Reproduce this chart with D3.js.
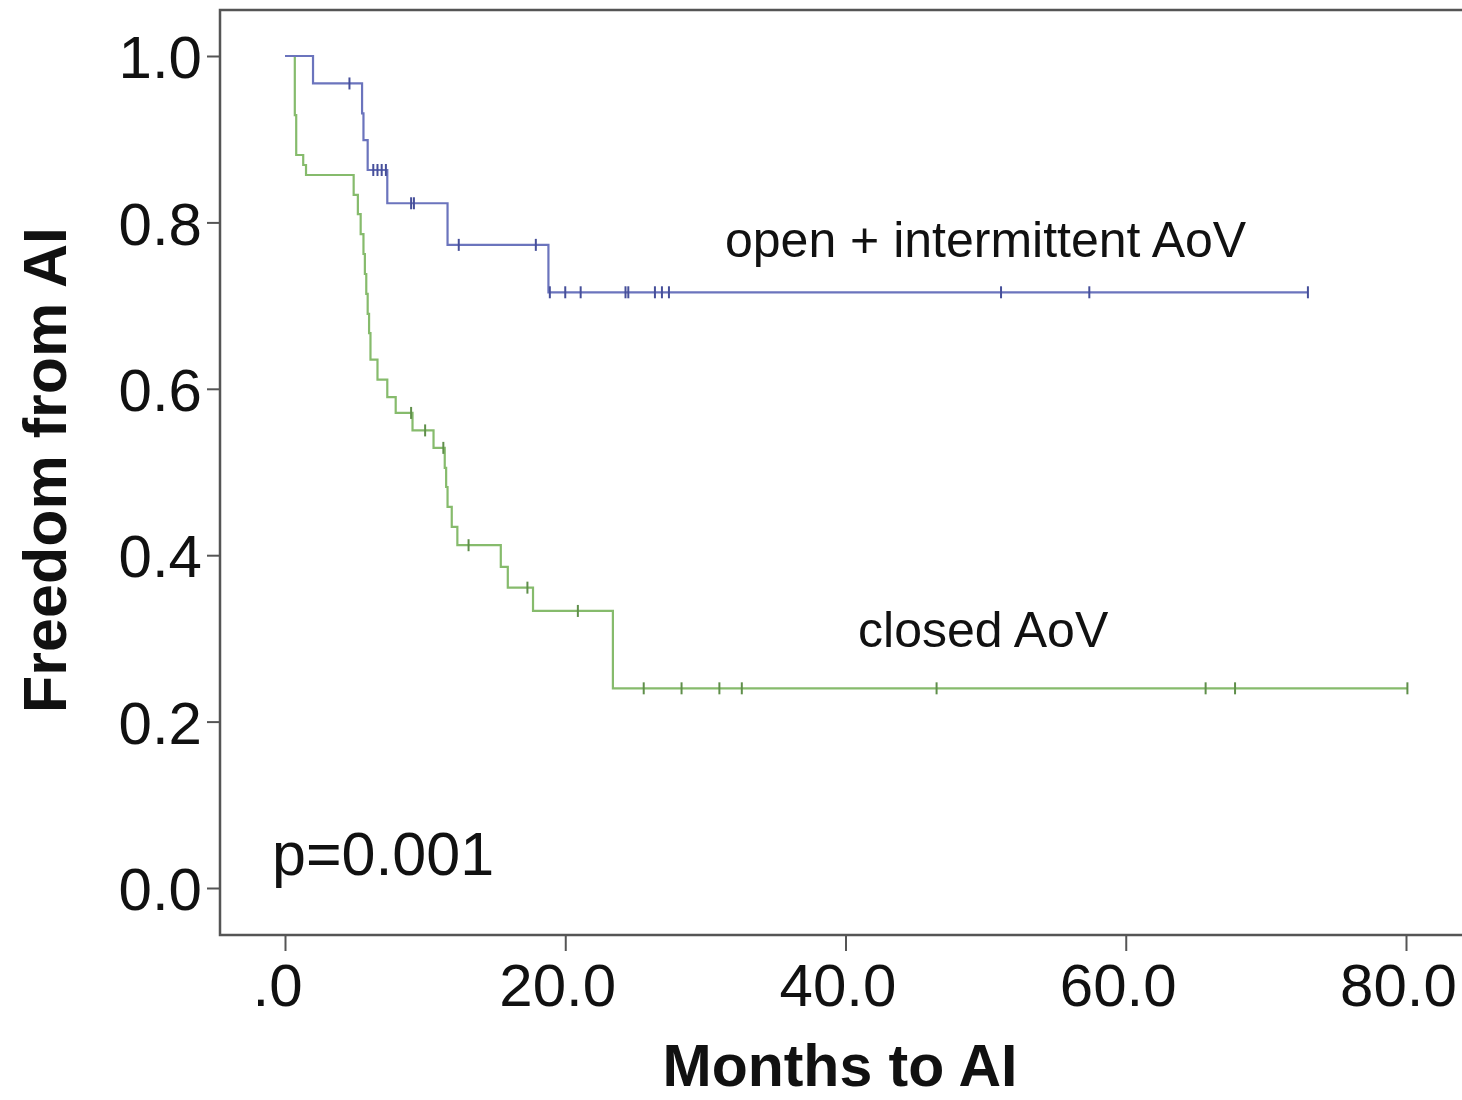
<!DOCTYPE html>
<html>
<head>
<meta charset="utf-8">
<script src="https://cdn.jsdelivr.net/npm/d3@7"></script>
<style>
  body { margin: 0; background: #fff; }
  svg { display: block; }
  text { font-family: "Liberation Sans", Arial, sans-serif; fill: #111; }
</style>
</head>
<body>
<div id="chart"></div>
<script>
// Kaplan-Meier steps: time (months) and survival after the event
const blueTimes = [2.0, 5.5, 5.6, 5.9, 7.3, 11.6, 18.8]
const blueSurv = [0.967, 0.931, 0.899, 0.863, 0.823, 0.773, 0.716]
const blueEnd = 73.0
const blueCensor = [4.6, 6.3, 6.6, 6.9, 7.2, 9.0, 9.2, 12.4, 17.9, 18.9, 20.0, 21.1, 24.3, 24.5, 26.4, 26.9, 27.4, 51.1, 57.4, 73.0]

const greenTimes = [0.7, 0.8, 1.3, 1.5, 4.9, 5.2, 5.4, 5.6, 5.7, 5.8, 5.9, 6.0, 6.1, 6.6, 7.3, 7.9, 9.1, 10.6, 11.4, 11.5, 11.6, 11.9, 12.3, 15.4, 15.9, 17.7, 23.4]
const greenSurv = [0.929, 0.881, 0.869, 0.857, 0.833, 0.810, 0.786, 0.762, 0.738, 0.714, 0.690, 0.667, 0.635, 0.611, 0.590, 0.571, 0.550, 0.529, 0.505, 0.482, 0.458, 0.434, 0.412, 0.386, 0.361, 0.333, 0.240]
const greenEnd = 80.1
const greenCensor = [9.0, 10.0, 11.3, 13.1, 17.3, 20.9, 25.6, 28.3, 31.0, 32.6, 46.5, 65.7, 67.8, 80.1]

const xTicks = [0, 20, 40, 60, 80]
const yTicks = [0, 0.2, 0.4, 0.6, 0.8, 1.0]

const width = 1462
const height = 1100

const x = d3.scaleLinear().domain([0, 80]).range([285, 1406])
const y = d3.scaleLinear().domain([0, 1]).range([888, 56])

const svg = d3.select('#chart').append('svg')
  .attr('width', width)
  .attr('height', height)

// frame (right side runs off the picture)
svg.append('rect')
  .attr('x', 220).attr('y', 10)
  .attr('width', 1280).attr('height', 925)
  .attr('fill', 'none')
  .attr('stroke', '#555')
  .attr('stroke-width', 2.5)

const yAxis = svg.append('g')
  .attr('transform', 'translate(220,0)')
  .call(d3.axisLeft(y).tickValues(yTicks).tickSize(13).tickPadding(5).tickFormat(d => d.toFixed(1)))
yAxis.select('.domain').remove()
yAxis.selectAll('line').attr('stroke', '#555').attr('stroke-width', 2)
yAxis.selectAll('text').attr('font-size', 60).attr('fill', '#111').attr('dy', '0.36em')

const xAxis = svg.append('g')
  .attr('transform', 'translate(0,935)')
  .call(d3.axisBottom(x).tickValues(xTicks).tickSize(16).tickPadding(12).tickFormat(d => d === 0 ? '.0' : d.toFixed(1)))
xAxis.select('.domain').remove()
xAxis.selectAll('line').attr('stroke', '#555').attr('stroke-width', 2)
xAxis.selectAll('text').attr('font-size', 60).attr('fill', '#111').attr('dx', -8)

function steps(times, surv, end) {
  const pts = [[0, 1]]
  times.forEach((t, i) => pts.push([t, surv[i]]))
  pts.push([end, surv[surv.length - 1]])
  return pts
}

function survAt(times, surv, t) {
  let v = 1
  times.forEach((tt, i) => { if (tt <= t) v = surv[i] })
  return v
}

const line = d3.line()
  .x(d => x(d[0]))
  .y(d => y(d[1]))
  .curve(d3.curveStepAfter)

const groups = [
  { times: greenTimes, surv: greenSurv, end: greenEnd, censor: greenCensor, color: '#86bb6c', mark: '#5f8f4a' },
  { times: blueTimes, surv: blueSurv, end: blueEnd, censor: blueCensor, color: '#6b74bd', mark: '#464f9a' }
]

groups.forEach(g => {
  svg.append('path')
    .datum(steps(g.times, g.surv, g.end))
    .attr('d', line)
    .attr('fill', 'none')
    .attr('stroke', g.color)
    .attr('stroke-width', 2.2)

  svg.append('g').selectAll('line')
    .data(g.censor)
    .join('line')
    .attr('x1', d => x(d)).attr('x2', d => x(d))
    .attr('y1', d => y(survAt(g.times, g.surv, d)) - 6)
    .attr('y2', d => y(survAt(g.times, g.surv, d)) + 6)
    .attr('stroke', g.mark)
    .attr('stroke-width', 2)
})

// annotations
svg.append('text')
  .attr('x', x(31.4)).attr('y', y(0.758))
  .attr('font-size', 50)
  .text('open + intermittent AoV')

svg.append('text')
  .attr('x', x(40.9)).attr('y', y(0.290))
  .attr('font-size', 50)
  .text('closed AoV')

svg.append('text')
  .attr('x', x(-0.93)).attr('y', y(0.016))
  .attr('font-size', 61)
  .text('p=0.001')

// axis titles
svg.append('text')
  .attr('x', 840).attr('y', 1086)
  .attr('text-anchor', 'middle')
  .attr('font-size', 59)
  .attr('font-weight', 'bold')
  .text('Months to AI')

svg.append('text')
  .attr('transform', 'translate(66,470) rotate(-90)')
  .attr('text-anchor', 'middle')
  .attr('font-size', 61)
  .attr('font-weight', 'bold')
  .text('Freedom from AI')
</script>
</body>
</html>
